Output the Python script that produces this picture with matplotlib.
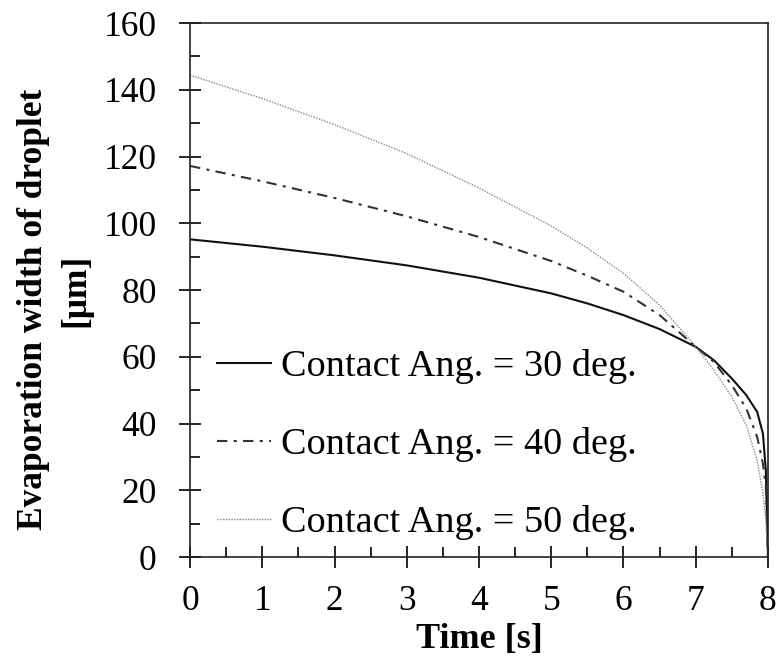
import matplotlib
matplotlib.use('Agg')
import matplotlib.pyplot as plt
from matplotlib.ticker import MultipleLocator

plt.rcParams['font.family'] = ['Liberation Serif', 'DejaVu Serif']

# values
time = [0, 1, 2, 3, 4, 5, 5.5, 6, 6.5, 7, 7.25, 7.5, 7.7, 7.85, 7.93, 7.97, 8.0]
width_30 = [95.2, 93.0, 90.4, 87.4, 83.7, 79.0, 76.0, 72.5, 68.3, 63.0, 59.0, 53.5, 48.5, 43.5, 37.0, 26.0, 0.0]
width_40 = [117.2, 112.6, 107.6, 102.1, 95.9, 88.7, 84.3, 79.5, 72.5, 63.0, 58.5, 51.5, 44.5, 36.0, 28.0, 21.0, 0.0]
width_50 = [144.4, 137.4, 129.6, 120.9, 110.6, 99.2, 92.6, 85.0, 75.5, 63.0, 56.0, 48.0, 39.5, 29.0, 19.0, 11.0, 0.0]
labels = ['Contact Ang. = 30 deg.', 'Contact Ang. = 40 deg.', 'Contact Ang. = 50 deg.']

fig = plt.figure(figsize=(7.8, 6.6), dpi=100)
ax = fig.add_axes([0.2436, 0.156, 0.741, 0.809])

ax.plot(time, width_30, color='#111111', linestyle='-', linewidth=1.5, label=labels[0])
ax.plot(time, width_40, color='#333333', linestyle=(0, (5, 3, 1.5, 3)), linewidth=1.5, label=labels[1])
ax.plot(time, width_50, color='#888888', linestyle=(0, (1, 1)), linewidth=1.0, label=labels[2])

ax.set_xlim(0, 8)
ax.set_ylim(0, 160)
ax.xaxis.set_major_locator(MultipleLocator(1))
ax.xaxis.set_minor_locator(MultipleLocator(0.5))
ax.yaxis.set_major_locator(MultipleLocator(20))
ax.yaxis.set_minor_locator(MultipleLocator(10))
ax.tick_params(axis='both', which='major', direction='inout', length=16, width=1.2, labelsize=25.5)
ax.tick_params(axis='both', which='minor', direction='in', length=7, width=1.2)
ax.tick_params(axis='x', which='major', pad=12)
ax.tick_params(axis='y', which='major', pad=16)
for s in ax.spines.values():
    s.set_linewidth(1.2)
    s.set_color('#222222')

ax.set_xlabel('Time [s]', fontsize=26, fontweight='bold', labelpad=4)
ax.set_ylabel('Evaporation width of droplet', fontsize=25.5, fontweight='bold')
ax.yaxis.set_label_coords(-0.242, 0.464)
ax.text(-0.197, 0.5, '[μm]', transform=ax.transAxes, rotation=90, ha='center', va='center',
        fontsize=25.5, fontweight='bold')

ax.legend(loc='lower left', bbox_to_anchor=(0.0, -0.019), frameon=False, fontsize=27.5,
          handlelength=1.42, handletextpad=0.26, labelspacing=1.13, borderaxespad=0.3)

plt.savefig('out.png', dpi=100)
